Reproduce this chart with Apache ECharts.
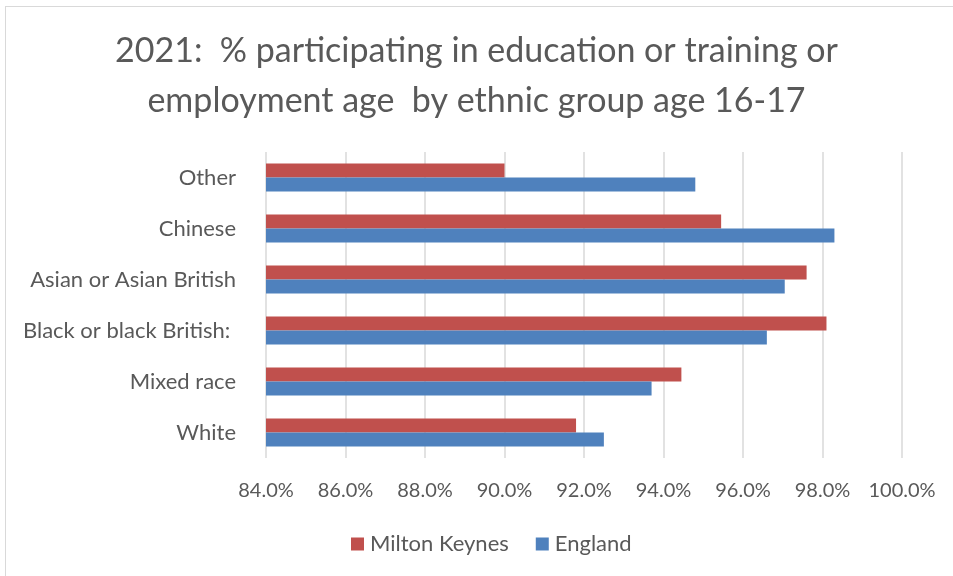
<!DOCTYPE html>
<html>
<head>
<meta charset="utf-8">
<script src="https://cdn.jsdelivr.net/npm/echarts@6/dist/echarts.min.js"></script>
<style>
  html, body { margin: 0; padding: 0; background: #ffffff; }
  #chart { width: 953px; height: 576px; position: relative; }
  #frame { position: absolute; left: 5px; top: 6px; width: 960px; height: 600px;
           border: 1px solid #d9d9d9; box-sizing: border-box; pointer-events: none; }
</style>
</head>
<body>
<div id="chart"></div>
<div id="frame"></div>
<script>
// Ethnic groups, listed bottom to top as the category axis draws them
const categories = ['White', 'Mixed race', 'Black or black British: ', 'Asian or Asian British', 'Chinese', 'Other'];
// Share of 16-17 year olds in education, training or employment (%)
const miltonKeynes = [91.8, 94.45, 98.1, 97.6, 95.45, 90.0];
const england = [92.5, 93.7, 96.6, 97.05, 98.3, 94.8];
const seriesNames = ['Milton Keynes', 'England'];
const axisMin = 84, axisMax = 100, axisStep = 2;

const FONT = 'Lato, "Open Sans", sans-serif';
const TEXT = '#595959';

const chart = echarts.init(document.getElementById('chart'), null, { renderer: 'canvas' });
chart.setOption({
  animation: false,
  backgroundColor: '#ffffff',
  title: {
    text: '2021:  % participating in education or training or\nemployment age  by ethnic group age 16-17',
    left: 'center',
    top: 21,
    textStyle: { fontFamily: FONT, fontSize: 34, fontWeight: 'normal', color: TEXT, lineHeight: 50 }
  },
  legend: {
    data: seriesNames,
    top: 528,
    left: 346,
    itemWidth: 13,
    itemHeight: 13,
    itemGap: 27,
    icon: 'rect',
    textStyle: { fontFamily: FONT, fontSize: 22, color: TEXT, padding: [0, 0, 0, 1] }
  },
  grid: { left: 266, right: 51, top: 152, bottom: 118, containLabel: false },
  xAxis: {
    type: 'value',
    min: axisMin,
    max: axisMax,
    interval: axisStep,
    axisLine: { show: false },
    axisTick: { show: false },
    splitLine: { show: true, lineStyle: { color: '#d9d9d9', width: 1.5 } },
    axisLabel: {
      margin: 23,
      fontFamily: FONT, fontSize: 20, color: TEXT,
      formatter: v => v.toFixed(1) + '%'
    }
  },
  yAxis: {
    type: 'category',
    data: categories,
    axisLine: { show: false },
    axisTick: { show: false },
    axisLabel: { margin: 30, fontFamily: FONT, fontSize: 22, color: TEXT }
  },
  series: [
    {
      name: 'Milton Keynes', type: 'bar', data: miltonKeynes,
      itemStyle: { color: '#c0504d' },
      barWidth: 14, barGap: '0%', barCategoryGap: '45%'
    },
    {
      name: 'England', type: 'bar', data: england,
      itemStyle: { color: '#4f81bd' },
      barWidth: 14, barGap: '0%', barCategoryGap: '45%'
    }
  ]
});
</script>
</body>
</html>
